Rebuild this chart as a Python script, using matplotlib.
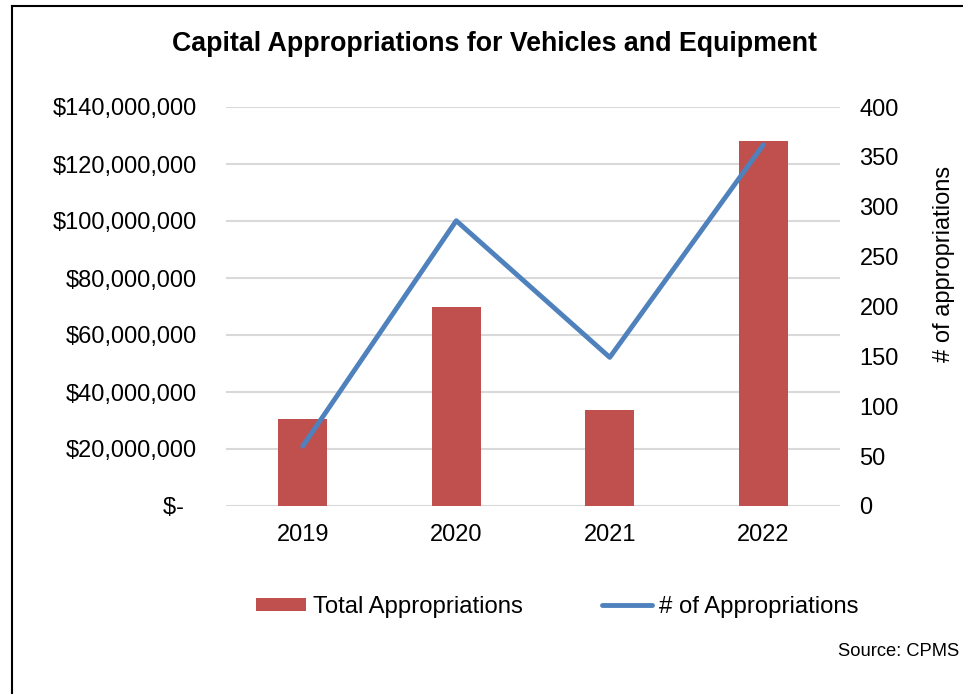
import matplotlib
matplotlib.use('Agg')
from matplotlib import pyplot as plt
from matplotlib.lines import Line2D
from matplotlib.patches import Patch

# Data.
years = ['2019', '2020', '2021', '2022']
total_appropriations = [30_400_000, 69_700_000, 33_700_000, 128_200_000]
num_appropriations = [60, 286, 149, 362]

left_ticks = [0, 20_000_000, 40_000_000, 60_000_000, 80_000_000,
              100_000_000, 120_000_000, 140_000_000]
left_labels = ['$-  ', '$20,000,000', '$40,000,000', '$60,000,000',
               '$80,000,000', '$100,000,000', '$120,000,000', '$140,000,000']
right_ticks = [0, 50, 100, 150, 200, 250, 300, 350, 400]

BAR_COLOR = '#C0504D'
LINE_COLOR = '#4F81BD'
GRID_COLOR = '#D9D9D9'


def main():
    plt.rcParams['font.family'] = ['Liberation Sans', 'DejaVu Sans']
    fig = plt.figure(figsize=(9.63, 6.94), dpi=100)
    ax = fig.add_axes([226 / 963, 1 - 506 / 694, 614 / 963, 399 / 694])
    ax2 = ax.twinx()

    x = range(len(years))
    ax.bar(x, total_appropriations, width=0.32, color=BAR_COLOR, zorder=2)
    ax2.plot(x, num_appropriations, color=LINE_COLOR, lw=3.5,
             solid_capstyle='round', zorder=3)

    # Axes formatting.
    ax.set_xlim(-0.5, 3.5)
    ax.set_ylim(0, 140_000_000)
    ax2.set_ylim(0, 400)
    ax.set_xticks(list(x))
    ax.set_xticklabels(years)
    ax.set_yticks(left_ticks)
    ax.set_yticklabels(left_labels)
    ax2.set_yticks(right_ticks)
    ax.yaxis.grid(True, color=GRID_COLOR, lw=1.5, zorder=0)
    ax.set_axisbelow(True)
    for a in (ax, ax2):
        for s in a.spines.values():
            s.set_visible(False)
    ax.tick_params(axis='both', length=0, labelsize=17, colors='black')
    ax.tick_params(axis='y', pad=21)
    ax.tick_params(axis='x', pad=13)
    ax2.tick_params(axis='y', length=0, labelsize=17, pad=14)
    ax2.set_ylabel('# of appropriations', fontsize=17, ha='center', va='center')
    ax2.yaxis.set_label_coords((944 - 226) / 614, (506 - 264) / 399)

    fig.text(495 / 963, 1 - 44 / 694, 'Capital Appropriations for Vehicles and Equipment',
             ha='center', va='center', fontsize=19.3, fontweight='bold')
    fig.text(959 / 963, 1 - 651 / 694, 'Source: CPMS', ha='right', va='center',
             fontsize=13.2)

    handles = [Patch(facecolor=BAR_COLOR, edgecolor='none'),
               Line2D([0], [0], color=LINE_COLOR, lw=3.5, solid_capstyle='round')]
    fig.legend(handles, ['Total Appropriations', '# of Appropriations'],
               loc='center', bbox_to_anchor=(557 / 963, 1 - 607 / 694), ncol=2,
               frameon=False, fontsize=17.2, handlelength=2.1, handleheight=0.5,
               handletextpad=0.3, columnspacing=3.3)

    # Frame around the chart (only top and left edges are visible).
    fig.add_artist(Line2D([12 / 963, 12 / 963], [0, 1 - 6 / 694],
                          transform=fig.transFigure, color='black', lw=1.5))
    fig.add_artist(Line2D([12 / 963, 1], [1 - 6 / 694, 1 - 6 / 694],
                          transform=fig.transFigure, color='black', lw=1.5))

    fig.savefig('out.png', dpi=100)


if __name__ == '__main__':
    main()
